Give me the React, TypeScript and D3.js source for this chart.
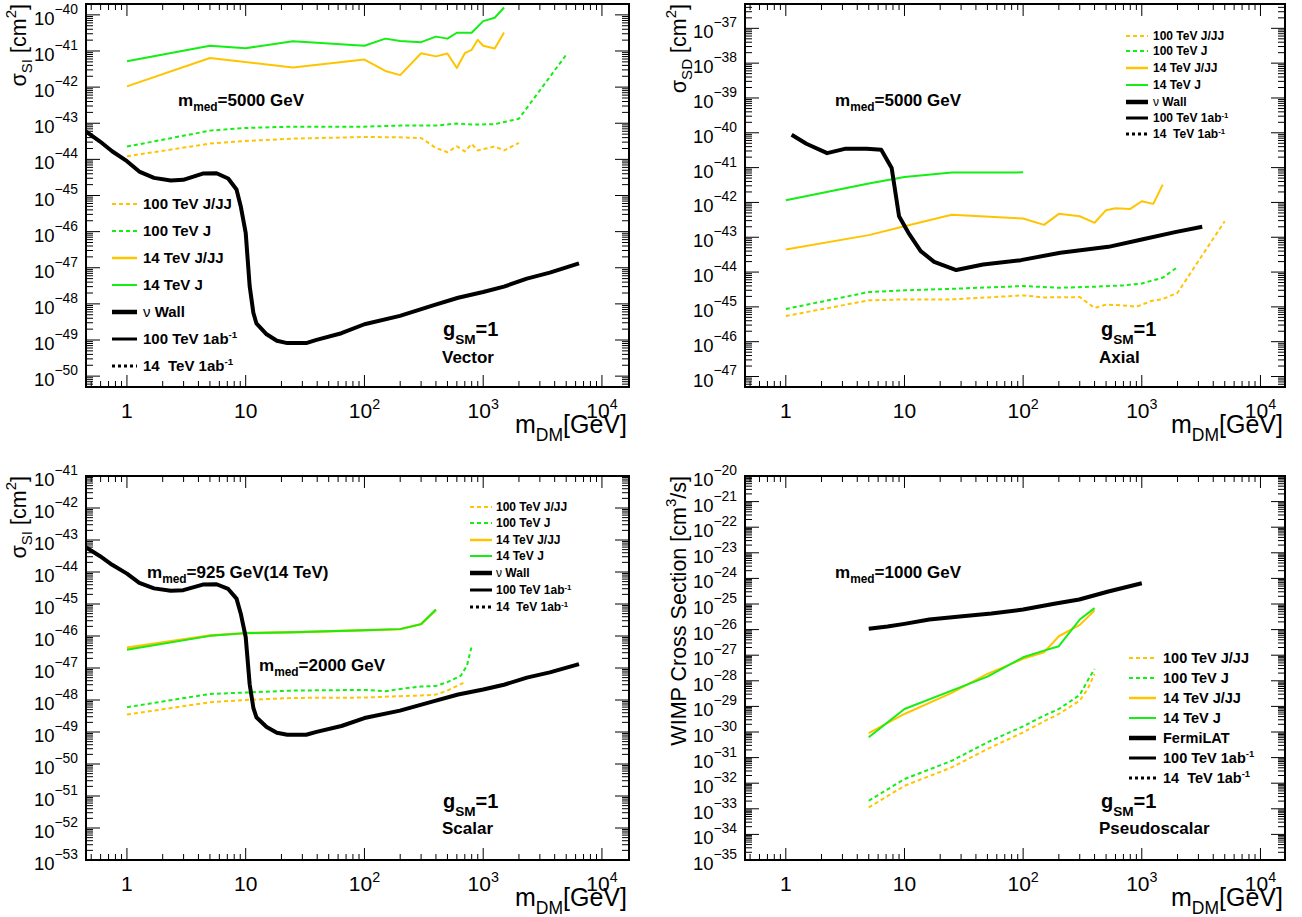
import React from "react";
import * as d3 from "d3";

const FONT = "'Liberation Sans', Arial, Helvetica, sans-serif";
const ORANGE = "#ffc400";
const GREEN = "#14ee14";

// ---------------- Vector (spin-independent) ----------------
const vecJ14Mass = [1, 5, 10, 25, 100, 150, 200, 300, 400, 500, 600, 800, 1000, 1250, 1500];
const vecJ14 = [5.2e-42, 1.4e-41, 1.2e-41, 1.87e-41, 1.4e-41, 2.2e-41, 1.9e-41, 1.76e-41, 2.5e-41, 2.2e-41, 3.2e-41, 3.2e-41, 6.7e-41, 8.3e-41, 1.6e-40];
const vecJJ14Mass = [1, 5, 25, 100, 150, 200, 300, 400, 500, 600, 700, 800, 900, 1000, 1250, 1500];
const vecJJ14 = [1.05e-42, 6.4e-42, 3.5e-42, 5.8e-42, 2.8e-42, 2.15e-42, 8.7e-42, 7.1e-42, 8.5e-42, 3.4e-42, 8.7e-42, 1.08e-41, 2.04e-41, 1.4e-41, 1.17e-41, 3.25e-41];
const vecJ100Mass = [1, 5, 10, 25, 100, 200, 400, 600, 800, 1250, 2000, 5000];
const vecJ100 = [2.26e-44, 6.25e-44, 7.4e-44, 8.06e-44, 8.06e-44, 8.6e-44, 8.6e-44, 9.8e-44, 9.2e-44, 9.4e-44, 1.34e-43, 7.85e-42];
const vecJJ100Mass = [1, 5, 10, 25, 100, 200, 300, 400, 500, 600, 700, 800, 900, 1250, 1500, 2000];
const vecJJ100 = [1.22e-44, 2.73e-44, 3.23e-44, 3.75e-44, 4.17e-44, 4.08e-44, 3.9e-44, 2.07e-44, 1.58e-44, 2.3e-44, 1.66e-44, 2.67e-44, 1.77e-44, 2.27e-44, 1.77e-44, 2.85e-44];

// neutrino wall, spin-independent (shared by Vector and Scalar)
const wallSIMass = [0.45, 0.59, 0.75, 1, 1.27, 1.69, 2.34, 2.98, 4.35, 5.68, 7.12, 8.37, 9.08, 10, 10.8, 11.6, 12.3, 15, 18.3, 22.4, 32.3, 39.5, 64, 100, 199, 379, 615, 1000, 1496, 2333, 3640, 6410];
const wallSI = [5.98e-44, 3.17e-44, 1.68e-44, 8.9e-45, 4.6e-45, 3.08e-45, 2.6e-45, 2.71e-45, 4.05e-45, 4.14e-45, 2.95e-45, 1.47e-45, 5.07e-46, 9.3e-47, 3.1e-48, 5.7e-49, 2.9e-49, 1.44e-49, 9.5e-50, 8.2e-50, 8.2e-50, 1.01e-49, 1.54e-49, 2.73e-49, 4.65e-49, 9.1e-49, 1.48e-48, 2.13e-48, 3.0e-48, 5.0e-48, 7.3e-48, 1.32e-47];

// ---------------- Axial (spin-dependent) ----------------
const axJ14Mass = [1, 5, 10, 25, 100];
const axJ14 = [1.15e-42, 3.5e-42, 5.4e-42, 7.2e-42, 7.3e-42];
const axJJ14Mass = [1, 5, 10, 25, 100, 150, 200, 300, 400, 500, 600, 800, 1000, 1250, 1500];
const axJJ14 = [4.46e-44, 1.15e-43, 2.08e-43, 4.4e-43, 3.44e-43, 2.27e-43, 4.7e-43, 4.0e-43, 2.6e-43, 6.0e-43, 6.8e-43, 6.5e-43, 1.08e-42, 9.1e-43, 3.24e-42];
const axJ100Mass = [1, 5, 10, 25, 100, 200, 400, 700, 1000, 1500, 2000];
const axJ100 = [8.7e-46, 2.67e-45, 2.98e-45, 3.3e-45, 3.97e-45, 3.55e-45, 3.8e-45, 4.14e-45, 4.7e-45, 6.9e-45, 1.39e-44];
const axJJ100Mass = [1, 5, 10, 25, 100, 150, 300, 400, 500, 700, 900, 1200, 1500, 2000, 5000];
const axJJ100 = [5.47e-46, 1.54e-45, 1.64e-45, 1.64e-45, 2.14e-45, 1.87e-45, 1.91e-45, 9.3e-46, 1.16e-45, 1.1e-45, 1.01e-45, 1.47e-45, 1.67e-45, 2.55e-45, 2.88e-43];
const wallSDMass = [1.12, 1.49, 2.23, 3.2, 4.8, 6.37, 7.8, 9.0, 10.8, 13.7, 17.8, 27.3, 46, 95.7, 206, 523, 1000, 1910, 3230];
const wallSD = [8.8e-41, 4.85e-41, 2.6e-41, 3.5e-41, 3.5e-41, 3.27e-41, 9.75e-42, 4.0e-43, 1.34e-43, 4.0e-44, 1.97e-44, 1.14e-44, 1.65e-44, 2.2e-44, 3.57e-44, 5.3e-44, 8.6e-44, 1.4e-43, 2.0e-43];

// ---------------- Scalar (spin-independent) ----------------
const scaJ14Mass = [1, 5, 10, 25, 100, 200, 300, 400];
const scaJ14 = [3.7e-47, 1.01e-46, 1.23e-46, 1.32e-46, 1.52e-46, 1.64e-46, 2.35e-46, 6.7e-46];
const scaJJ14Mass = [1, 5, 10, 25, 100, 200, 300, 400];
const scaJJ14 = [4.27e-47, 1.03e-46, 1.23e-46, 1.32e-46, 1.52e-46, 1.64e-46, 2.35e-46, 6.4e-46];
const scaJ100Mass = [1, 5, 10, 25, 100, 150, 200, 300, 400, 500, 650, 730, 800];
const scaJ100 = [5.94e-49, 1.55e-48, 1.71e-48, 1.97e-48, 2.07e-48, 1.88e-48, 2.22e-48, 2.63e-48, 2.76e-48, 3.6e-48, 5.8e-48, 1.19e-47, 4.8e-47];
const scaJJ100Mass = [1, 5, 10, 25, 100, 200, 300, 400, 500, 700];
const scaJJ100 = [3.5e-49, 8.5e-49, 1.0e-48, 1.16e-48, 1.19e-48, 1.32e-48, 1.38e-48, 1.48e-48, 1.97e-48, 3.6e-48];

// ---------------- Pseudoscalar (annihilation) ----------------
const psMass = [5, 10, 25, 50, 100, 150, 200, 300, 400];
const psJ14 = [6.2e-31, 7.9e-30, 4.14e-29, 1.46e-28, 8.3e-28, 1.51e-27, 2.24e-27, 2.48e-26, 6.9e-26];
const psJJ14 = [9.1e-31, 5.06e-30, 3.35e-29, 1.86e-28, 7.2e-28, 1.3e-27, 5.5e-27, 1.53e-26, 5.6e-26];
const ps100Mass = [5, 10, 25, 50, 100, 150, 200, 300, 350, 400];
const psJ100 = [2.06e-33, 1.45e-32, 7.5e-32, 3.96e-31, 1.67e-30, 4.35e-30, 7.9e-30, 2.8e-29, 1.02e-28, 2.9e-28];
const psJJ100 = [1.13e-33, 7.9e-33, 4.14e-32, 2.16e-31, 9.7e-31, 2.6e-30, 5.06e-30, 1.68e-29, 4.8e-29, 1.86e-28];
const fermiMass = [5, 7.2, 10, 16.2, 30.8, 54, 100, 183, 297, 523, 1000];
const fermiLAT = [1.07e-26, 1.32e-26, 1.67e-26, 2.48e-26, 3.34e-26, 4.25e-26, 6.1e-26, 1.02e-25, 1.5e-25, 3.09e-25, 6.5e-25];

// legend labels
const legendBase = ["100 TeV J/JJ", "100 TeV J", "14 TeV J/JJ", "14 TeV J"];

type Part = { t: string; sub?: boolean; sup?: boolean; normal?: boolean };

function Rich(props: {
  x: number; y: number; parts: Part[]; size: number; bold?: boolean; anchor?: string;
  rotate?: number; scale?: number; subDy?: number; supDy?: number;
}) {
  const { x, y, parts, size, bold, anchor = "start", rotate, scale = 0.7, subDy = 0.3, supDy = 0.45 } = props;
  let cur = 0;
  return (
    <text x={x} y={y} fontSize={size} fontFamily={FONT} fontWeight={bold ? "bold" : "normal"}
      textAnchor={anchor as any} transform={rotate ? `rotate(${rotate},${x},${y})` : undefined}
      style={{ whiteSpace: "pre" }}>
      {parts.map((p, i) => {
        const target = p.sub ? size * subDy : p.sup ? -size * supDy : 0;
        const dy = target - cur;
        cur = target;
        return (
          <tspan key={i} dy={dy} fontSize={p.sub || p.sup ? size * scale : size}
            fontWeight={p.normal ? "normal" : undefined}>{p.t}</tspan>
        );
      })}
    </text>
  );
}

type Series = { m: number[]; v: number[]; color: string; width: number; dash?: string };

const pairs = (m: number[], v: number[]) => m.map((x, i) => [x, v[i]] as [number, number]);

function logTicks(domain: [number, number]) {
  const [a, b] = domain;
  const major: { v: number; e: number }[] = [];
  const minor: number[] = [];
  for (let e = Math.floor(Math.log10(a)); e <= Math.ceil(Math.log10(b)); e++) {
    for (let k = 1; k <= 9; k++) {
      const v = k * Math.pow(10, e);
      if (v >= a * 0.9999 && v <= b * 1.0001) {
        if (k === 1) major.push({ v, e });
        else minor.push(v);
      }
    }
  }
  return { major, minor };
}

type Legend = { x1: number; x2: number; tx: number; ys: number[]; size: number; fourth: string };
type Ann = { x: number; y: number; parts: Part[]; size: number; subDy?: number; scale?: number };

type PanelCfg = {
  id: string; l: number; r: number; t: number; b: number;
  xDomain: [number, number]; yDomain: [number, number];
  series: Series[]; legend: Legend; anns: Ann[];
  yTitle: Part[]; yTitleX: number;
};

const DASH = "4 3";

function Panel({ cfg }: { cfg: PanelCfg }) {
  const { id, l, r, t, b, xDomain, yDomain, series, legend, anns, yTitle, yTitleX } = cfg;
  const xs = d3.scaleLog().domain(xDomain).range([l, r]);
  const ys = d3.scaleLog().domain(yDomain).range([b, t]);
  const line = d3.line<[number, number]>().x((d) => xs(d[0])).y((d) => ys(d[1]));
  const xt = logTicks(xDomain);
  const yt = logTicks(yDomain);

  const legendItems = [
    { label: [{ t: legendBase[0] }], color: ORANGE, w: 2, dash: DASH },
    { label: [{ t: legendBase[1] }], color: GREEN, w: 2, dash: DASH },
    { label: [{ t: legendBase[2] }], color: ORANGE, w: 2.5 },
    { label: [{ t: legendBase[3] }], color: GREEN, w: 2 },
    {
      label: legend.fourth === "wall" ? [{ t: "\u03bd", normal: true }, { t: " Wall" }] : [{ t: "FermiLAT" }],
      color: "#000", w: 4.5,
    },
    { label: [{ t: "100 TeV 1ab" }, { t: "-1", sup: true }], color: "#000", w: 3 },
    { label: [{ t: "14  TeV 1ab" }, { t: "-1", sup: true }], color: "#000", w: 3, dash: "3 3" },
  ] as { label: Part[]; color: string; w: number; dash?: string }[];

  return (
    <g>
      <defs>
        <clipPath id={id}>
          <rect x={l} y={t} width={r - l} height={b - t} />
        </clipPath>
      </defs>
      <g clipPath={`url(#${id})`}>
        {series.map((s, i) => (
          <path key={i} d={line(pairs(s.m, s.v)) || ""} fill="none" stroke={s.color}
            strokeWidth={s.width} strokeDasharray={s.dash} strokeLinejoin="round" />
        ))}
      </g>
      {/* ticks */}
      <g stroke="#000" strokeWidth={1}>
        {xt.major.map((d, i) => (
          <g key={"xM" + i}>
            <line x1={xs(d.v)} x2={xs(d.v)} y1={b} y2={b - 12} />
            <line x1={xs(d.v)} x2={xs(d.v)} y1={t} y2={t + 12} />
          </g>
        ))}
        {xt.minor.map((v, i) => (
          <g key={"xm" + i}>
            <line x1={xs(v)} x2={xs(v)} y1={b} y2={b - 6} />
            <line x1={xs(v)} x2={xs(v)} y1={t} y2={t + 6} />
          </g>
        ))}
        {yt.major.map((d, i) => (
          <g key={"yM" + i}>
            <line x1={l} x2={l + 14} y1={ys(d.v)} y2={ys(d.v)} />
            <line x1={r} x2={r - 14} y1={ys(d.v)} y2={ys(d.v)} />
          </g>
        ))}
        {yt.minor.map((v, i) => (
          <g key={"ym" + i}>
            <line x1={l} x2={l + 7} y1={ys(v)} y2={ys(v)} />
            <line x1={r} x2={r - 7} y1={ys(v)} y2={ys(v)} />
          </g>
        ))}
      </g>
      <rect x={l} y={t} width={r - l} height={b - t} fill="none" stroke="#000" strokeWidth={2} />
      {/* x tick labels */}
      {xt.major.map((d, i) => (
        <Rich key={"xl" + i} x={xs(d.v)} y={b + 31} size={21} anchor="middle" scale={0.68} supDy={0.45}
          parts={d.e === 0 ? [{ t: "1" }] : d.e === 1 ? [{ t: "10" }] : [{ t: "10" }, { t: String(d.e), sup: true }]} />
      ))}
      {/* y tick labels */}
      {yt.major.map((d, i) => (
        <Rich key={"yl" + i} x={l - 8} y={ys(d.v) + 10} size={18.5} anchor="end" scale={0.75} supDy={0.6}
          parts={[{ t: "10" }, { t: "\u2212" + String(-d.e), sup: true }]} />
      ))}
      {/* axis titles */}
      <Rich x={r - 2} y={b + 46} size={25} anchor="end" scale={0.7} subDy={0.3}
        parts={[{ t: "m" }, { t: "DM", sub: true }, { t: "[GeV]" }]} />
      <Rich x={yTitleX} y={t} size={21.5} anchor="end" rotate={-90} scale={0.7} subDy={0.3} supDy={0.45}
        parts={yTitle} />
      {/* legend */}
      {legendItems.map((it, i) => (
        <g key={"lg" + i}>
          <line x1={legend.x1} x2={legend.x2} y1={legend.ys[i]} y2={legend.ys[i]} stroke={it.color}
            strokeWidth={it.w} strokeDasharray={it.dash} />
          <Rich x={legend.tx} y={legend.ys[i] + legend.size * 0.36} size={legend.size} bold
            scale={0.65} supDy={0.4} parts={it.label} />
        </g>
      ))}
      {/* annotations */}
      {anns.map((a, i) => (
        <Rich key={"an" + i} x={a.x} y={a.y} size={a.size} bold parts={a.parts}
          scale={a.scale ?? 0.7} subDy={a.subDy ?? 0.3} />
      ))}
    </g>
  );
}

const mmed = (v: string): Part[] => [{ t: "m" }, { t: "med", sub: true }, { t: "=" + v }];
const gsm: Part[] = [{ t: "g" }, { t: "SM", sub: true }, { t: "=1" }];

const panels: PanelCfg[] = [
  {
    id: "clipVector", l: 86, r: 629, t: 4, b: 387, xDomain: [0.452, 16900], yDomain: [5e-51, 2e-40],
    series: [
      { m: vecJJ100Mass, v: vecJJ100, color: ORANGE, width: 2, dash: DASH },
      { m: vecJ100Mass, v: vecJ100, color: GREEN, width: 2, dash: DASH },
      { m: vecJJ14Mass, v: vecJJ14, color: ORANGE, width: 2 },
      { m: vecJ14Mass, v: vecJ14, color: GREEN, width: 2 },
      { m: wallSIMass, v: wallSI, color: "#000", width: 4 },
    ],
    legend: { x1: 112, x2: 137, tx: 143, ys: [204, 231, 258, 285, 312, 339, 366], size: 15, fourth: "wall" },
    anns: [
      { x: 178, y: 106, parts: mmed("5000 GeV"), size: 17 },
      { x: 443, y: 336, parts: gsm, size: 20, subDy: 0.4, scale: 0.68 },
      { x: 442, y: 363, parts: [{ t: "Vector" }], size: 17 },
    ],
    yTitle: [{ t: "\u03c3" }, { t: "SI", sub: true }, { t: " [cm" }, { t: "2", sup: true }, { t: "]" }],
    yTitleX: 26,
  },
  {
    id: "clipAxial", l: 745, r: 1285, t: 4, b: 387, xDomain: [0.453, 16100], yDomain: [5e-48, 5e-37],
    series: [
      { m: axJJ100Mass, v: axJJ100, color: ORANGE, width: 2, dash: DASH },
      { m: axJ100Mass, v: axJ100, color: GREEN, width: 2, dash: DASH },
      { m: axJJ14Mass, v: axJJ14, color: ORANGE, width: 2 },
      { m: axJ14Mass, v: axJ14, color: GREEN, width: 2 },
      { m: wallSDMass, v: wallSD, color: "#000", width: 4 },
    ],
    legend: { x1: 1126, x2: 1148, tx: 1153, ys: [36, 51, 68, 85, 102, 118, 134], size: 12, fourth: "wall" },
    anns: [
      { x: 835, y: 106, parts: mmed("5000 GeV"), size: 17 },
      { x: 1101, y: 336, parts: gsm, size: 20, subDy: 0.4, scale: 0.68 },
      { x: 1099, y: 363, parts: [{ t: "Axial" }], size: 17 },
    ],
    yTitle: [{ t: "\u03c3" }, { t: "SD", sub: true }, { t: " [cm" }, { t: "2", sup: true }, { t: "]" }],
    yTitleX: 686,
  },
  {
    id: "clipScalar", l: 86, r: 629, t: 476, b: 860, xDomain: [0.452, 16900], yDomain: [1e-53, 1e-41],
    series: [
      { m: scaJJ100Mass, v: scaJJ100, color: ORANGE, width: 2, dash: DASH },
      { m: scaJ100Mass, v: scaJ100, color: GREEN, width: 2, dash: DASH },
      { m: scaJJ14Mass, v: scaJJ14, color: ORANGE, width: 2.5 },
      { m: scaJ14Mass, v: scaJ14, color: GREEN, width: 2 },
      { m: wallSIMass, v: wallSI, color: "#000", width: 4 },
    ],
    legend: { x1: 470, x2: 492, tx: 496, ys: [507, 523, 540, 556, 573, 590, 607], size: 12, fourth: "wall" },
    anns: [
      { x: 147, y: 578, parts: mmed("925 GeV(14 TeV)"), size: 17 },
      { x: 259, y: 671, parts: mmed("2000 GeV"), size: 17 },
      { x: 443, y: 808, parts: gsm, size: 20, subDy: 0.4, scale: 0.68 },
      { x: 442, y: 834, parts: [{ t: "Scalar" }], size: 17 },
    ],
    yTitle: [{ t: "\u03c3" }, { t: "SI", sub: true }, { t: " [cm" }, { t: "2", sup: true }, { t: "]" }],
    yTitleX: 26,
  },
  {
    id: "clipPseudo", l: 745, r: 1285, t: 476, b: 860, xDomain: [0.453, 16100], yDomain: [1e-35, 1e-20],
    series: [
      { m: ps100Mass, v: psJJ100, color: ORANGE, width: 2, dash: DASH },
      { m: ps100Mass, v: psJ100, color: GREEN, width: 2, dash: DASH },
      { m: psMass, v: psJJ14, color: ORANGE, width: 2 },
      { m: psMass, v: psJ14, color: GREEN, width: 2 },
      { m: fermiMass, v: fermiLAT, color: "#000", width: 4 },
    ],
    legend: { x1: 1129, x2: 1156, tx: 1163, ys: [658, 678, 698, 718, 738, 758, 778], size: 14.5, fourth: "fermi" },
    anns: [
      { x: 835, y: 578, parts: mmed("1000 GeV"), size: 17 },
      { x: 1101, y: 808, parts: gsm, size: 20, subDy: 0.4, scale: 0.68 },
      { x: 1099, y: 834, parts: [{ t: "Pseudoscalar" }], size: 17 },
    ],
    yTitle: [{ t: "WIMP Cross Section [cm" }, { t: "3", sup: true }, { t: "/s]" }],
    yTitleX: 686,
  },
];

export default function App() {
  return (
    <div style={{ position: "absolute", left: 0, top: 0, width: 1302, height: 917, background: "#fff" }}>
      <svg width={1302} height={917} viewBox="0 0 1302 917" style={{ display: "block" }}>
        <rect width={1302} height={917} fill="#fff" />
        {panels.map((p) => (
          <Panel key={p.id} cfg={p} />
        ))}
      </svg>
    </div>
  );
}
